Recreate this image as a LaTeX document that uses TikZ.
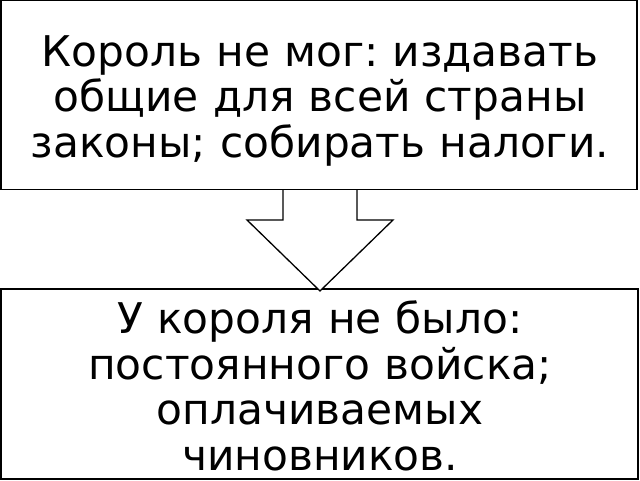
\documentclass[tikz,border=0pt]{standalone}
\usepackage{fontspec}
\setmainfont{DejaVu Sans}
\frenchspacing
\begin{document}
\begin{tikzpicture}[x=1pt,y=1pt,
  box/.style={draw=black,line width=1.3pt},
  txt/.style={inner sep=0pt,align=center,text width=636pt,font=\fontsize{42.3}{45.6}\selectfont},
  blockarrow/.style={draw=black,line width=1.3pt,fill=white,line join=miter}]
\useasboundingbox (0,0) rectangle (640,480);
\node[box,minimum width=636pt,minimum height=189pt,inner sep=0pt] (top) at (319,385) {};
\node[box,minimum width=637pt,minimum height=190pt,inner sep=0pt] (bottom) at (319.5,96) {};
\node[txt,anchor=north] (toptext) at (320,445) {Король не мог: издавать\\ общие для всей страны\\ законы; собирать налоги.};
\node[txt,anchor=north] (bottext) at (320,179.5) {У короля не было:\\ постоянного войска;\\ оплачиваемых\\ чиновников.};
\coordinate (s1) at (top.south -| 283,0);
\coordinate (s2) at (top.south -| 357,0);
\coordinate (tip) at (320,189);
\draw[blockarrow] (s1) -- (283,260) -- (247,260) -- (tip) -- (393,260) -- (357,260) -- (s2);
\end{tikzpicture}
\end{document}
